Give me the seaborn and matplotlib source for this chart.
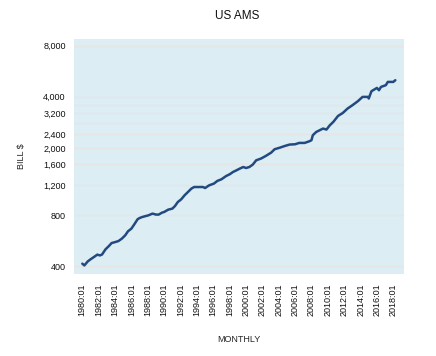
import matplotlib
matplotlib.use("Agg")
import matplotlib.pyplot as plt
import matplotlib.ticker as mticker
import matplotlib.dates as mdates
import pandas as pd
import seaborn as sns

# ── Data (billions $) ────────────────────────────────────────────────────────
DATES = [
    "1980-01", "1980-04", "1980-09", "1981-01", "1981-06", "1981-11", "1982-03", "1982-06",
    "1982-11", "1983-04", "1983-08", "1984-01", "1984-06", "1984-11", "1985-04", "1985-08",
    "1986-01", "1986-06", "1986-10", "1987-01", "1987-05", "1987-10", "1988-02", "1988-08",
    "1989-01", "1989-05", "1989-10", "1990-01", "1990-07", "1991-01", "1991-05", "1991-09",
    "1992-02", "1992-07", "1993-01", "1993-05", "1993-09", "1994-03", "1994-10", "1995-01",
    "1995-07", "1996-02", "1996-07", "1997-01", "1997-08", "1998-01", "1998-06", "1998-11",
    "1999-04", "1999-09", "2000-01", "2000-06", "2000-11", "2001-04", "2001-11", "2002-06",
    "2003-02", "2003-07", "2004-03", "2004-10", "2005-05", "2006-01", "2006-07", "2007-03",
    "2007-10", "2008-01", "2008-03", "2008-08", "2009-01", "2009-06", "2009-11", "2010-04",
    "2010-09", "2011-04", "2011-11", "2012-06", "2013-01", "2013-09", "2014-04", "2014-12",
    "2015-01", "2015-05", "2016-01", "2016-04", "2016-07", "2017-02", "2017-05", "2018-01",
    "2018-04",
]
AMS = [
    415, 405, 428, 440, 454, 469, 464, 470,
    504, 527, 549, 556, 564, 583, 610, 644,
    668, 715, 758, 771, 782, 792, 800, 819,
    808, 808, 830, 837, 864, 876, 908, 958,
    994, 1050, 1109, 1150, 1175, 1175, 1175, 1159,
    1202, 1231, 1276, 1305, 1365, 1396, 1441, 1474,
    1509, 1542, 1521, 1542, 1594, 1689, 1729, 1791,
    1876, 1962, 2007, 2052, 2091, 2100, 2138, 2138,
    2187, 2218, 2373, 2482, 2540, 2599, 2564, 2719,
    2843, 3084, 3213, 3411, 3567, 3767, 3995, 3995,
    3908, 4314, 4512, 4374, 4575, 4683, 4896, 4896,
    5010,
]
Y_TICKS  = [400, 800, 1200, 1600, 2000, 2400, 3200, 4000, 8000]
Y_MINOR  = [2800, 3600]

# ── Style ────────────────────────────────────────────────────────────────────
BG_PANEL   = "#DCEDF3"
GRID_COLOR = "#E6E6E6"
LINE_COLOR = "#234A80"
TICK_COLOR = "#999999"

sns.set_style("white")
plt.rcParams["font.family"] = ["Liberation Sans", "DejaVu Sans"]

df = pd.DataFrame({"date": pd.to_datetime(DATES), "ams": AMS})

fig = plt.figure(figsize=(4.36, 3.56), dpi=100)
ax = fig.add_axes([0.170, 0.230, 0.757, 0.660])
ax.set_facecolor(BG_PANEL)

sns.lineplot(data=df, x="date", y="ams", ax=ax, color=LINE_COLOR, linewidth=1.8)

ax.set_yscale("log")
ax.set_ylim(360, 8750)
ax.yaxis.set_major_locator(mticker.FixedLocator(Y_TICKS))
ax.yaxis.set_minor_locator(mticker.FixedLocator(Y_MINOR))
ax.yaxis.set_major_formatter(mticker.FuncFormatter(lambda v, _: f"{v:,.0f}"))
ax.yaxis.set_minor_formatter(mticker.NullFormatter())

ax.set_xlim(pd.Timestamp("1979-01-01"), pd.Timestamp("2019-05-01"))
ax.xaxis.set_major_locator(mdates.YearLocator(1))
ax.xaxis.set_major_formatter(mticker.FuncFormatter(
    lambda v, _: mdates.num2date(v).strftime("%Y:01") if mdates.num2date(v).year % 2 == 0 else ""))
plt.setp(ax.get_xticklabels(), rotation=90)

ax.grid(axis="y", which="both", color=GRID_COLOR, linewidth=1.0)
ax.grid(axis="x", visible=False)
ax.set_axisbelow(True)
for s in ax.spines.values():
    s.set_visible(False)

ax.tick_params(axis="both", which="major", length=3, width=0.8, color=TICK_COLOR,
               labelsize=6.5, labelcolor="#111111", direction="out")
ax.tick_params(axis="x", pad=3.5)
ax.tick_params(axis="y", pad=3)
ax.tick_params(axis="y", which="minor", length=1.5, width=0.8, color=TICK_COLOR)

ax.set_xlabel("MONTHLY", fontsize=6.5, labelpad=14)
ax.set_ylabel("BILL $", fontsize=6.5, labelpad=12)
fig.text(0.545, 0.955, "US AMS", ha="center", va="center", fontsize=8.5, color="#111111")

fig.savefig("out.png", dpi=100, facecolor="white")
